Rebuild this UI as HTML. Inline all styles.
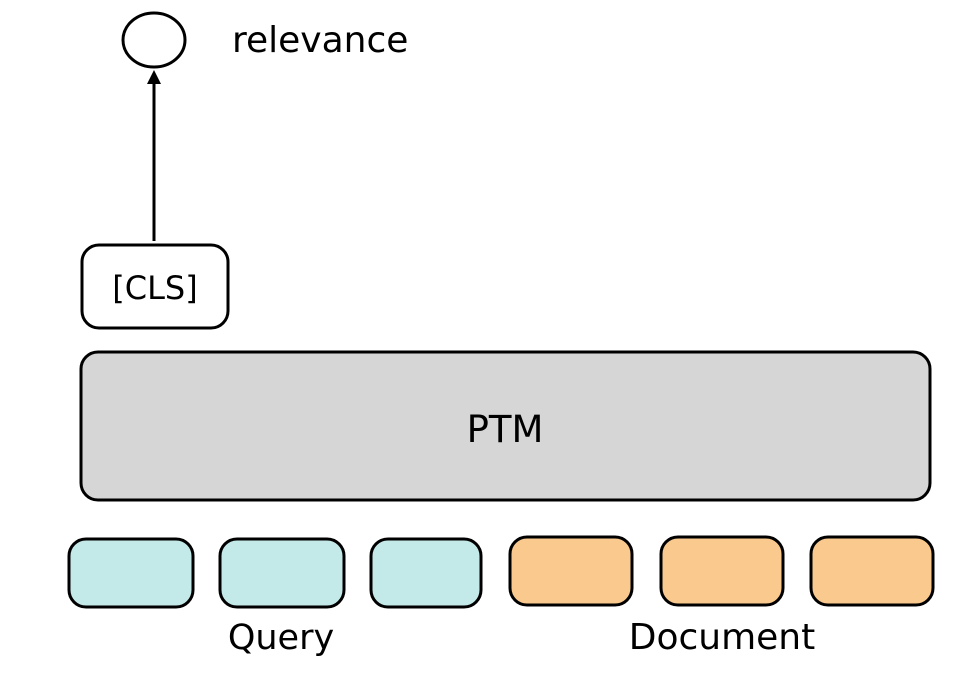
<!DOCTYPE html>
<html><head><style>
body{margin:0;background:#fff;}
svg text{font-family:"DejaVu Sans","Liberation Sans",sans-serif;fill:#000;}
</style></head><body>
<svg width="958" height="675" viewBox="0 0 958 675" xmlns="http://www.w3.org/2000/svg">
<ellipse cx="154" cy="40" rx="31" ry="27" fill="#fff" stroke="#000" stroke-width="3"/>
<text x="232" y="52" font-size="36">relevance</text>
<line x1="154" y1="241" x2="154" y2="82" stroke="#000" stroke-width="3"/>
<polygon points="154,70 147,84 161,84" fill="#000"/>
<rect x="82" y="245" width="146" height="83" rx="17" fill="#fff" stroke="#000" stroke-width="3"/>
<text x="155" y="299" font-size="32" text-anchor="middle">[CLS]</text>
<rect x="81" y="352" width="849" height="148" rx="17" fill="#d6d6d6" stroke="#000" stroke-width="3"/>
<text x="505" y="442" font-size="37" text-anchor="middle">PTM</text>
<g stroke="#000" stroke-width="3">
<rect x="69" y="539" width="124" height="68" rx="17" fill="#c4e9e9"/>
<rect x="220" y="539" width="124" height="68" rx="17" fill="#c4e9e9"/>
<rect x="371" y="539" width="110" height="68" rx="17" fill="#c4e9e9"/>
<rect x="510" y="537" width="122" height="68" rx="17" fill="#f9c98d"/>
<rect x="661" y="537" width="122" height="68" rx="17" fill="#f9c98d"/>
<rect x="811" y="537" width="122" height="68" rx="17" fill="#f9c98d"/>
</g>
<text x="281" y="649" font-size="35" text-anchor="middle">Query</text>
<text x="722" y="649" font-size="36" text-anchor="middle">Document</text>
</svg>
</body></html>
